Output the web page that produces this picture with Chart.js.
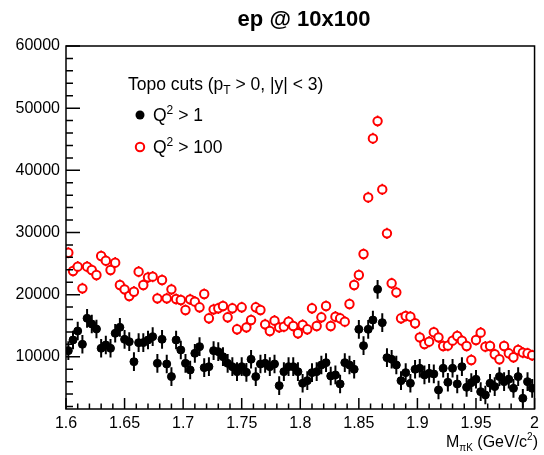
<!DOCTYPE html>
<html>
<head>
<meta charset="utf-8">
<script src="https://cdn.jsdelivr.net/npm/chart.js@4.4.0/dist/chart.umd.min.js"></script>
<style>
  html, body { margin: 0; padding: 0; background: #fff; }
</style>
</head>
<body>
<canvas id="mass-chart" width="544" height="455"></canvas>
<script>
  // M(piK) histogram: 100 bins between 1.6 and 2.0 GeV/c^2
  const binWidth = 0.004;
  const massBins = Array.from({ length: 100 }, (_, i) => +(1.6 + binWidth * (i + 0.5)).toFixed(3));

  // Q^2 > 1 (black filled markers)
  const countsQ2gt1 = [
    10990, 12700, 14150, 12010, 16190, 15280, 14470, 11370, 11900, 11370,
    13780, 14740, 12810, 12430, 9210, 12270, 12280, 12700, 13240, 8950,
    12810, 8840, 6810, 12700, 11100, 8950, 7880, 10560, 11630, 8250,
    8410, 10990, 10830, 10020, 8950, 8410, 7610, 8410, 7500, 9600,
    6810, 8840, 8950, 8410, 8840, 5360, 7610, 8410, 8410, 7610,
    5740, 6160, 7450, 7610, 8680, 9060, 6910, 7080, 5630, 9060,
    8680, 7990, 14420, 11790, 14420, 15920, 20850, 15490, 9860, 9600,
    8680, 6160, 7450, 5740, 7990, 8150, 7080, 7340, 7240, 4660,
    8150, 5900, 8150, 5630, 8410, 5090, 5840, 6380, 4390, 3860,
    5740, 5200, 6810, 6000, 6380, 4930, 6810, 3320, 6000, 4930
  ];

  // Q^2 > 100 (red open markers)
  const countsQ2gt100 = [
    26740, 23800, 24500, 21010, 24500, 23960, 23150, 26210, 25460, 23960,
    25140, 21550, 20850, 19780, 20470, 23690, 21550, 22780, 22890, 19400,
    22350, 19400, 20850, 19300, 19130, 17530, 19240, 18870, 17960, 20100,
    16190, 17630, 17800, 18170, 16350, 17800, 14420, 17960, 14740, 15920,
    17960, 17530, 15220, 14150, 15810, 14740, 14850, 15650, 14950, 13780,
    15120, 14420, 17800, 14950, 16350, 18170, 14950, 16450, 16190, 15650,
    18490, 21550, 23150, 26530, 35640, 45130, 47920, 36930, 29860, 21820,
    20370, 16190, 16560, 16450, 15390, 13130, 12060, 12430, 13940, 13130,
    11740, 11790, 12600, 13350, 12600, 11740, 9490, 12700, 13880, 11630,
    11740, 10400, 9600, 11740, 10560, 9920, 11100, 10670, 10560, 10240
  ];

  // typical error bar half-size
  const errQ2gt1 = 1500;
  const errQ2gt100 = 900;

  const xTickLabels = [1.6, 1.65, 1.7, 1.75, 1.8, 1.85, 1.9, 1.95, 2.0];
  const yTickLabels = [10000, 20000, 30000, 40000, 50000, 60000];

  const fontFamily = '"Liberation Sans", Arial, Helvetica, sans-serif';

  function toPoints(values, err) {
    return values.map((v, i) => ({ x: massBins[i], y: v, err: err }));
  }

  // draws text made of pieces [text, size, dy, bold]
  function drawRich(ctx, x, y, parts, align) {
    let total = 0;
    parts.forEach(p => {
      ctx.font = `${p[3] ? 'bold ' : ''}${p[1]}px ${fontFamily}`;
      total += ctx.measureText(p[0]).width;
    });
    let cx = align === 'right' ? x - total : align === 'center' ? x - total / 2 : x;
    parts.forEach(p => {
      ctx.font = `${p[3] ? 'bold ' : ''}${p[1]}px ${fontFamily}`;
      ctx.fillText(p[0], cx, y + (p[2] || 0));
      cx += ctx.measureText(p[0]).width;
    });
  }

  // vertical error bars, drawn under the markers
  const errorBars = {
    id: 'errorBars',
    beforeDatasetsDraw(chart) {
      const { ctx, chartArea: a } = chart;
      const yScale = chart.scales.y;
      ctx.save();
      ctx.beginPath();
      ctx.rect(a.left, a.top, a.right - a.left, a.bottom - a.top);
      ctx.clip();
      chart.data.datasets.forEach((ds, di) => {
        const meta = chart.getDatasetMeta(di);
        ctx.strokeStyle = ds.borderColor;
        ctx.lineWidth = ds.errWidth;
        ctx.beginPath();
        meta.data.forEach((pt, i) => {
          const d = ds.data[i];
          ctx.moveTo(pt.x, yScale.getPixelForValue(d.y - d.err));
          ctx.lineTo(pt.x, yScale.getPixelForValue(d.y + d.err));
        });
        ctx.stroke();
      });
      ctx.restore();
    }
  };

  // ROOT-like frame with inward ticks
  const rootFrame = {
    id: 'rootFrame',
    afterDatasetsDraw(chart) {
      const { ctx, chartArea: a, scales: { x, y } } = chart;
      ctx.save();
      ctx.strokeStyle = '#000';
      ctx.lineWidth = 1.5;
      ctx.strokeRect(a.left, a.top, a.right - a.left, a.bottom - a.top);
      ctx.beginPath();
      for (let k = 0; k <= 40; k++) {
        const px = x.getPixelForValue(1.6 + k * 0.01);
        const len = k % 5 === 0 ? 11 : 5.5;
        ctx.moveTo(px, a.bottom);
        ctx.lineTo(px, a.bottom - len);
      }
      for (let v = 2000; v <= 60000; v += 2000) {
        const py = y.getPixelForValue(v);
        if (py > a.bottom) continue;
        const len = v % 10000 === 0 ? 14 : 7;
        ctx.moveTo(a.left, py);
        ctx.lineTo(a.left + len, py);
      }
      ctx.stroke();
      ctx.restore();
    }
  };

  // title, legend and axis title
  const texts = {
    id: 'texts',
    afterDraw(chart) {
      const { ctx } = chart;
      ctx.save();
      ctx.fillStyle = '#000';
      ctx.textBaseline = 'alphabetic';
      drawRich(ctx, 304, 26, [['ep @ 10x100', 22, 0, true]], 'center');

      drawRich(ctx, 128, 90, [['Topo cuts (p', 17.5], ['T', 12, 4], [' > 0, |y| < 3)', 17.5]]);

      ctx.beginPath();
      ctx.arc(140, 115, 4.5, 0, Math.PI * 2);
      ctx.fill();
      drawRich(ctx, 153, 121, [['Q', 17.5], ['2', 12, -7], [' > 1', 17.5]]);

      ctx.strokeStyle = '#ff0000';
      ctx.lineWidth = 2;
      ctx.beginPath();
      ctx.arc(140, 147, 4.2, 0, Math.PI * 2);
      ctx.stroke();
      drawRich(ctx, 153, 153, [['Q', 17.5], ['2', 12, -7], [' > 100', 17.5]]);

      drawRich(ctx, 538, 447, [['M', 16], ['\u03c0K', 10, 4], [' (GeV/c', 16], ['2', 10, -7], [')', 16]], 'right');
      ctx.restore();
    }
  };

  const ctx = document.getElementById('mass-chart').getContext('2d');
  new Chart(ctx, {
    type: 'scatter',
    data: {
      datasets: [
        {
          label: 'Q2 > 1',
          data: toPoints(countsQ2gt1, errQ2gt1),
          pointRadius: 4,
          borderWidth: 1,
          borderColor: '#000000',
          backgroundColor: '#000000',
          errWidth: 2
        },
        {
          label: 'Q2 > 100',
          data: toPoints(countsQ2gt100, errQ2gt100),
          pointRadius: 4.2,
          borderWidth: 2,
          borderColor: '#ff0000',
          backgroundColor: '#ffffff',
          errWidth: 1.6
        }
      ]
    },
    options: {
      responsive: false,
      animation: false,
      devicePixelRatio: 1,
      layout: { padding: { top: 46, right: 6, left: 0, bottom: 0 } },
      plugins: { legend: { display: false }, tooltip: { enabled: false } },
      scales: {
        x: {
          type: 'linear',
          min: 1.6,
          max: 2.0,
          grid: { display: false, drawTicks: false },
          border: { display: false },
          afterBuildTicks: s => { s.ticks = xTickLabels.map(v => ({ value: v })); },
          afterFit: s => { s.height = 46; },
          ticks: {
            autoSkip: false,
            maxRotation: 0,
            padding: 5,
            color: '#000',
            font: { family: fontFamily, size: 16 },
            callback: v => String(+Number(v).toFixed(2))
          }
        },
        y: {
          type: 'linear',
          min: 1600,
          max: 60000,
          grid: { display: false, drawTicks: false },
          border: { display: false },
          afterBuildTicks: s => { s.ticks = yTickLabels.map(v => ({ value: v })); },
          afterFit: s => { s.width = 66; },
          ticks: {
            padding: 6,
            color: '#000',
            font: { family: fontFamily, size: 16 },
            callback: v => String(v)
          }
        }
      }
    },
    plugins: [errorBars, rootFrame, texts]
  });
</script>
</body>
</html>
